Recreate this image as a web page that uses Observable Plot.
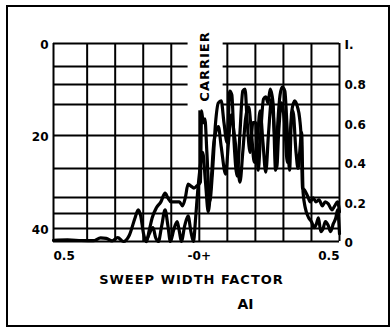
<!DOCTYPE html>
<html><head><meta charset="utf-8">
<script src="https://cdn.jsdelivr.net/npm/d3@7"></script>
<script src="https://cdn.jsdelivr.net/npm/@observablehq/plot@0.6"></script>
<style>
body{margin:0;background:#fff;}
#wrap{position:relative;width:391px;height:328px;overflow:hidden;}
#wrap svg{position:absolute;left:0;top:0;}
#border{position:absolute;left:6px;top:5px;width:380px;height:318px;border:2px solid #000;pointer-events:none;}
</style></head><body><div id="wrap"><div id="border"></div></div>
<script>
// Upper trace (relative amplitude vs sweep width factor)
const xA = [-0.52,-0.47,-0.42,-0.378,-0.352,-0.332,-0.311,-0.291,-0.27,-0.25,-0.229,-0.218,-0.209,-0.199,-0.189,-0.178,-0.168,-0.153,-0.137,-0.122,-0.112,-0.101,-0.086,-0.071,-0.06,-0.05,-0.04,-0.03,-0.019,-0.009,0.004,0.008,0.014,0.02,0.027,0.037,0.047,0.058,0.068,0.078,0.088,0.099,0.109,0.116,0.124,0.135,0.145,0.155,0.163,0.171,0.181,0.191,0.201,0.21,0.219,0.229,0.237,0.245,0.253,0.263,0.272,0.28,0.288,0.296,0.305,0.314,0.322,0.329,0.34,0.35,0.358,0.364,0.368,0.375,0.386,0.396,0.406,0.416,0.427,0.439,0.449,0.46,0.473,0.483,0.493,0.5];
const yA = [0.006,0.008,0.005,0.004,0.018,0.016,0.003,0.02,0.0,0.03,0.12,0.16,0.13,0.04,0.0,0.06,0.12,0.17,0.2,0.245,0.22,0.2,0.2,0.2,0.18,0.22,0.29,0.28,0.27,0.28,0.3,0.66,0.6,0.62,0.45,0.2,0.35,0.6,0.7,0.71,0.6,0.5,0.76,0.74,0.5,0.33,0.55,0.76,0.77,0.6,0.45,0.6,0.6,0.36,0.55,0.72,0.73,0.7,0.77,0.7,0.36,0.6,0.74,0.78,0.76,0.55,0.36,0.65,0.71,0.68,0.62,0.5,0.27,0.26,0.23,0.2,0.22,0.2,0.21,0.18,0.2,0.19,0.16,0.18,0.2,0.15];
// Lower trace
const xB = [-0.189,-0.178,-0.165,-0.156,-0.146,-0.134,-0.122,-0.112,-0.103,-0.091,-0.079,-0.071,-0.064,-0.052,-0.04,-0.03,-0.021,-0.013,-0.006,0.001,0.012,0.022,0.032,0.042,0.052,0.068,0.078,0.094,0.104,0.114,0.124,0.135,0.145,0.155,0.165,0.176,0.186,0.196,0.206,0.217,0.227,0.237,0.247,0.258,0.268,0.276,0.283,0.293,0.304,0.314,0.324,0.334,0.345,0.352,0.358,0.365,0.37,0.378,0.39,0.4,0.41,0.418,0.425,0.433,0.44,0.45,0.46,0.468,0.478,0.487,0.493,0.5];
const yB = [0.0,0.04,0.07,0.02,0.0,0.08,0.16,0.08,0.0,0.06,0.1,0.05,0.0,0.08,0.13,0.05,0.0,0.12,0.25,0.35,0.45,0.3,0.15,0.3,0.5,0.58,0.48,0.34,0.5,0.64,0.55,0.42,0.3,0.45,0.62,0.68,0.55,0.4,0.5,0.66,0.5,0.35,0.55,0.72,0.55,0.37,0.55,0.7,0.6,0.4,0.55,0.66,0.45,0.37,0.45,0.55,0.25,0.17,0.12,0.1,0.07,0.09,0.12,0.05,0.06,0.1,0.08,0.05,0.09,0.12,0.16,0.04];

const xDomain = [-0.52, 0.5];
const gridX = [-0.4,-0.3,-0.2,-0.1,0.1,0.2,0.3,0.4];
const carrierX = 0, carrierTop = 0.66;
const gridYFull = [0.535,0.369,0.222,0.141,0.066];
const gridYSplit = [0.884,0.793,0.692];
const gapX = [-0.04, 0.085];
const rightTicks = [0,0.2,0.4,0.6,0.8,1];
const rightTickLabels = ["0","0.2","0.4","0.6","0.8","I."];
const leftTickLabels = ["0","20","40"];
const leftTickPos = [1,0.535,0.066];
const bottomLabels = ["0.5","-0+","0.5"];
const bottomPos = [-0.52,0,0.5];
const xLabel = "SWEEP WIDTH FACTOR";
const subLabel = "AI";
const carrierLabel = "CARRIER";

const seriesA = xA.map((x,i)=>({x, y:yA[i]}));
const seriesB = xB.map((x,i)=>({x, y:yB[i]}));
const sw = 2;
const ff = "DejaVu Sans, sans-serif";

const chart = Plot.plot({
  width:391, height:328,
  marginLeft:53, marginRight:52, marginTop:43, marginBottom:87,
  x:{domain:xDomain, axis:null},
  y:{domain:[0,1], axis:null},
  style:{background:"transparent", fontFamily:ff, color:"#000"},
  marks:[
    Plot.ruleX(gridX, {y1:0, y2:1, stroke:"#000", strokeWidth:sw}),
    Plot.ruleX([carrierX], {y1:0, y2:carrierTop, stroke:"#000", strokeWidth:sw}),
    Plot.ruleY(gridYFull, {x1:xDomain[0], x2:xDomain[1], stroke:"#000", strokeWidth:sw}),
    Plot.ruleY(gridYSplit, {x1:xDomain[0], x2:gapX[0], stroke:"#000", strokeWidth:sw}),
    Plot.ruleY(gridYSplit, {x1:gapX[1], x2:xDomain[1], stroke:"#000", strokeWidth:sw}),
    Plot.ruleX(xDomain, {y1:0, y2:1, stroke:"#000", strokeWidth:sw}),
    Plot.ruleY([0], {x1:xDomain[0], x2:xDomain[1], stroke:"#000", strokeWidth:sw}),
    Plot.ruleY([1], {x1:xDomain[0], x2:gapX[0], stroke:"#000", strokeWidth:sw}),
    Plot.ruleY([1], {x1:gapX[1], x2:xDomain[1], stroke:"#000", strokeWidth:sw}),
    Plot.line(seriesA, {x:"x", y:"y", stroke:"#000", strokeWidth:3.2, curve:"monotone-x"}),
    Plot.line(seriesB, {x:"x", y:"y", stroke:"#000", strokeWidth:3.2, curve:"monotone-x"}),
    Plot.text(leftTickLabels, {y:(d,i)=>leftTickPos[i], text:d=>d, frameAnchor:"left", textAnchor:"end", dx:-5, dy:2, fontSize:12, fontWeight:"bold", fill:"#000"}),
    Plot.text(rightTicks, {y:d=>d, text:(d,i)=>rightTickLabels[i], frameAnchor:"right", textAnchor:"start", dx:5, dy:2, fontSize:12, fontWeight:"bold", fill:"#000"}),
    Plot.text([bottomLabels[0]], {x:()=>bottomPos[0], text:d=>d, frameAnchor:"bottom", textAnchor:"start", dy:18, fontSize:12, fontWeight:"bold", fill:"#000"}),
    Plot.text([bottomLabels[1]], {x:()=>bottomPos[1], text:d=>d, frameAnchor:"bottom", textAnchor:"middle", dy:18, fontSize:12, fontWeight:"bold", fill:"#000"}),
    Plot.text([bottomLabels[2]], {x:()=>bottomPos[2], text:d=>d, frameAnchor:"bottom", textAnchor:"end", dy:18, fontSize:12, fontWeight:"bold", fill:"#000"}),
    Plot.text([xLabel], {text:d=>d, frameAnchor:"bottom", dx:-5, dy:42, fontSize:13, fontWeight:"bold", fill:"#000"}),
    Plot.text([subLabel], {text:d=>d, frameAnchor:"bottom", dx:49, dy:67, fontSize:14, fontWeight:"bold", fill:"#000"}),
    Plot.text([carrierLabel], {x:()=>0.018, y:()=>0.884, text:d=>d, rotate:-90, fontSize:13, fontWeight:"bold", fill:"#000"})
  ]
});
d3.select(chart).selectAll("text").filter(function(){return this.textContent===xLabel || this.textContent===carrierLabel;}).attr("letter-spacing","1px");
document.getElementById("wrap").prepend(chart);
</script>
</body></html>
